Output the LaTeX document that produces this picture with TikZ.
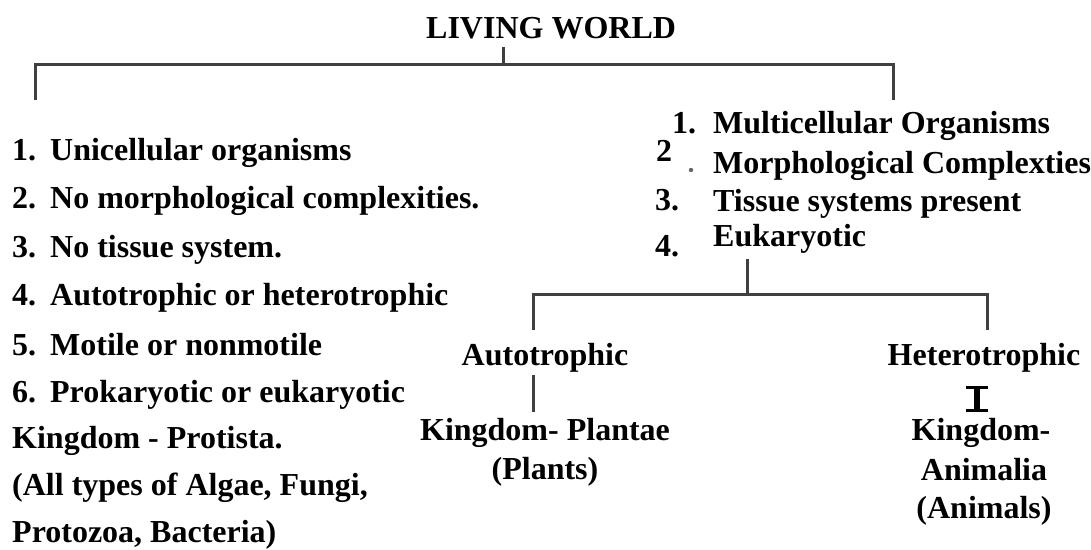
\documentclass[tikz,border=0pt]{standalone}
\usepackage{fontspec}
\setmainfont{Liberation Serif}
\usetikzlibrary{arrows.meta}
\begin{document}
\begin{tikzpicture}[x=1pt,y=-1pt,
  txt/.style={inner sep=0pt, font=\fontsize{32}{38}\selectfont\bfseries},
  lst/.style={txt, anchor=base west},
  ctr/.style={txt, anchor=base},
  conn/.style={line width=3pt, draw=black!75},
  ibeam/.style={line width=5.5pt, draw=black, {Bar[width=22pt,line width=3pt]}-{Bar[width=22pt,line width=3pt]}}]
\useasboundingbox (0,0) rectangle (1091,549);
% title
\node[lst] (title) at (426,38) {LIVING WORLD};
% top bracket
\coordinate (tstub) at (503,47);
\coordinate (tbar) at (503,64);
\coordinate (tl) at (35,64);
\coordinate (tr) at (893,64);
\coordinate (tlend) at (35,100);
\coordinate (trend) at (893,100);
\draw[conn] (tstub) -- (tbar);
\draw[conn] (tlend) -- (tl) -- (tr) -- (trend);
% left list
\node[lst] (l1) at (12,160) {\makebox[38pt][l]{1.}Unicellular organisms};
\node[lst] (l2) at (12,208) {\makebox[38pt][l]{2.}No morphological complexities.};
\node[lst] (l3) at (12,257) {\makebox[38pt][l]{3.}No tissue system.};
\node[lst] (l4) at (12,305) {\makebox[38pt][l]{4.}Autotrophic or heterotrophic};
\node[lst] (l5) at (12,355) {\makebox[38pt][l]{5.}Motile or nonmotile};
\node[lst] (l6) at (12,402) {\makebox[38pt][l]{6.}Prokaryotic or eukaryotic};
\node[lst] (l7) at (12,448) {Kingdom - Protista.};
\node[lst] (l8) at (12,495) {(All types of Algae, Fungi,};
\node[lst] (l9) at (12,542) {Protozoa, Bacteria)};
% right list
\node[lst] (n1) at (672,133) {1.};
\node[lst] (r1) at (713,133) {Multicellular Organisms};
\node[lst] (n2) at (656,161) {2};
\fill[black!60] (691,170) circle (2.2pt);
\node[lst] (r2) at (713,173) {Morphological Complexties};
\node[lst] (n3) at (655,210) {3.};
\node[lst] (r3) at (713,211) {Tissue systems present};
\node[lst] (n4) at (655,256) {4.};
\node[lst] (r4) at (713,246) {Eukaryotic};
% second bracket
\coordinate (mstub) at (747,259);
\coordinate (mbar) at (747,294);
\coordinate (ml) at (533,294);
\coordinate (mr) at (987,294);
\coordinate (mlend) at (533,330);
\coordinate (mrend) at (987,330);
\draw[conn] (mstub) -- (mbar);
\draw[conn] (mlend) -- (ml) -- (mr) -- (mrend);
% autotrophic branch
\node[ctr] (auto) at (545,365) {Autotrophic};
\node[ctr] (plantae) at (545,440) {Kingdom- Plantae};
\node[ctr] (plants) at (545,479) {(Plants)};
\coordinate (a1) at (533,375);
\coordinate (a2) at (533,412);
\draw[conn] (a1) -- (a2);
% heterotrophic branch
\node[ctr] (hetero) at (984,365) {Heterotrophic};
\node[ctr] (animk) at (981,440) {Kingdom-};
\node[ctr] (animalia) at (984,480) {Animalia};
\node[ctr] (animals) at (984,518) {(Animals)};
\coordinate (h1) at (977,386);
\coordinate (h2) at (977,412);
\draw[ibeam] (h1) -- (h2);
\end{tikzpicture}
\end{document}
